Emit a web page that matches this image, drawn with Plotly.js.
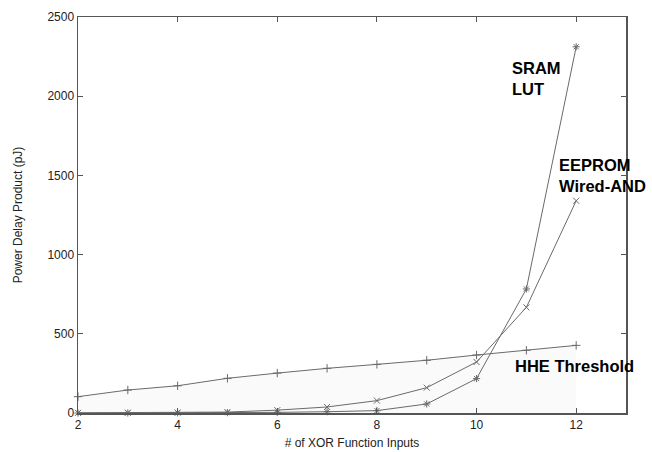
<!DOCTYPE html>
<html>
<head>
<meta charset="utf-8">
<script src="https://cdn.plot.ly/plotly-3.0.1.min.js"></script>
<style>html,body{margin:0;padding:0;background:#fff;}#chart{width:652px;height:452px;}</style>
</head>
<body>
<div id="chart"></div>
<script>
const xInputs = [2, 3, 4, 5, 6, 7, 8, 9, 10, 11, 12];
const hheThreshold = [103, 145, 172, 219, 252, 282, 307, 333, 366, 396, 427];
const eepromWiredAnd = [1, 2, 3, 6, 18, 38, 78, 160, 322, 667, 1340];
const sramLut = [0, 0, 1, 2, 4, 8, 15, 57, 217, 783, 2312];

const xTitle = '# of XOR Function Inputs';
const yTitle = 'Power Delay Product (pJ)';
const xTicks = [2, 4, 6, 8, 10, 12];
const yTicks = [0, 500, 1000, 1500, 2000, 2500];

const lineStyle = {color: '#6a6a6a', width: 1};
const markerLine = {color: '#333', width: 1};

const traces = [
  {x: xInputs, y: hheThreshold, mode: 'lines+markers', name: 'HHE Threshold',
   line: lineStyle, fill: 'tozeroy', fillcolor: 'rgba(225,225,225,0.18)',
   marker: {symbol: 'cross-thin-open', size: 6, line: markerLine}, cliponaxis: false},
  {x: xInputs, y: eepromWiredAnd, mode: 'lines+markers', name: 'EEPROM Wired-AND',
   line: lineStyle, marker: {symbol: 'x-thin-open', size: 6, line: markerLine}, cliponaxis: false},
  {x: xInputs, y: sramLut, mode: 'lines+markers', name: 'SRAM LUT',
   line: lineStyle, marker: {symbol: 'asterisk-open', size: 6, line: markerLine}, cliponaxis: false}
];

const annFont = {family: 'Liberation Sans, Arial, sans-serif', size: 16.5, color: '#000', weight: 'bold'};
const layout = {
  width: 652, height: 452,
  margin: {l: 77.5, r: 26, t: 17, b: 39},
  paper_bgcolor: '#fff', plot_bgcolor: '#fff',
  showlegend: false,
  font: {family: 'Liberation Sans, Arial, sans-serif', size: 12, color: '#222'},
  xaxis: {range: [2, 13], tickvals: xTicks, ticktext: xTicks.map(String),
    ticks: 'inside', ticklen: 5, tickcolor: '#555', showline: true, mirror: 'ticks',
    linecolor: '#555', linewidth: 1.5, showgrid: false, zeroline: false,
    tickfont: {size: 12, color: '#222'},
    title: {text: xTitle, font: {size: 12, color: '#222'}, standoff: 7}},
  yaxis: {range: [0, 2500], tickvals: yTicks, ticktext: yTicks.map(String),
    ticks: 'inside', ticklen: 5, tickcolor: '#555', showline: true, mirror: 'ticks',
    linecolor: '#555', linewidth: 1.5, showgrid: false, zeroline: false,
    tickfont: {size: 12, color: '#222'},
    title: {text: yTitle, font: {size: 12, color: '#222'}, standoff: 22}},
  annotations: [
    {x: 10.68, y: 2112, xref: 'x', yref: 'y', text: 'SRAM<br>LUT', showarrow: false,
     xanchor: 'left', yanchor: 'middle', align: 'left', font: annFont},
    {x: 11.62, y: 1499, xref: 'x', yref: 'y', text: 'EEPROM<br>Wired-AND', showarrow: false,
     xanchor: 'left', yanchor: 'middle', align: 'left', font: annFont},
    {x: 10.74, y: 297, xref: 'x', yref: 'y', text: 'HHE Threshold', showarrow: false,
     xanchor: 'left', yanchor: 'middle', align: 'left', font: annFont}
  ]
};

Plotly.newPlot('chart', traces, layout, {displayModeBar: false, staticPlot: true});
</script>
</body>
</html>
